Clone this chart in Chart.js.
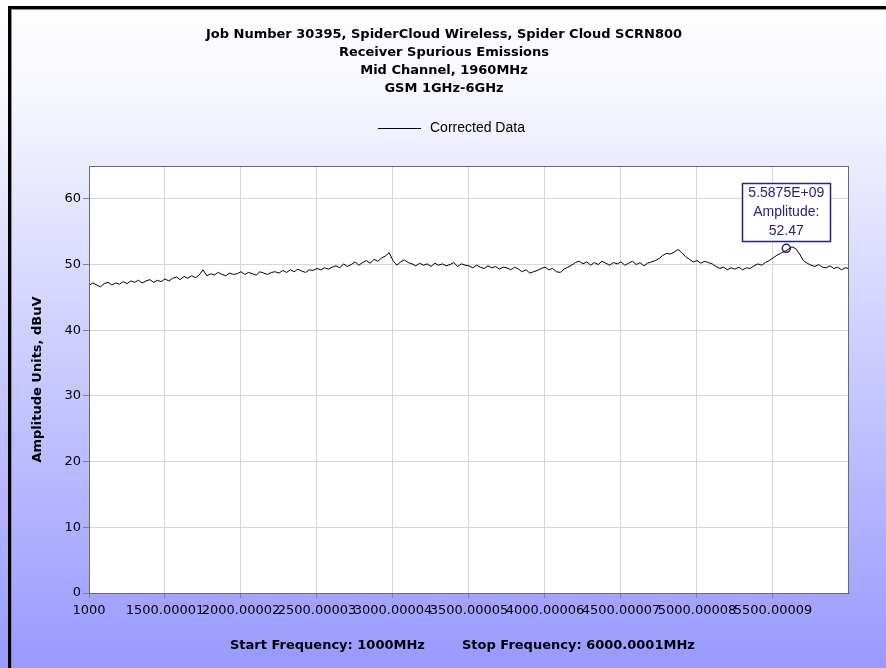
<!DOCTYPE html>
<html>
<head>
<meta charset="utf-8">
<script src="https://cdn.jsdelivr.net/npm/chart.js@4"></script>
<style>
html, body { margin: 0; padding: 0; background: #fff; }
canvas { display: block; }
</style>
</head>
<body>
<canvas id="specChart" width="886" height="668"></canvas>
<script>
// sweep: 1000 -> 6000 MHz, one reading every 25 MHz
const startMHz = 1000;
const stepMHz = 25;
const amplitude = [
  46.8, 47.2, 46.9, 46.6, 47.1, 47.3, 46.9, 47.2, 47.0, 47.4,
  47.1, 47.5, 47.3, 47.6, 47.2, 47.5, 47.7, 47.3, 47.6, 47.4,
  47.8, 47.5, 47.9, 48.1, 47.7, 48.2, 47.9, 48.3, 48.0, 48.4,
  49.2, 48.3, 48.6, 48.4, 48.8, 48.5, 48.3, 48.7, 48.5, 48.6,
  48.9, 48.5, 48.8, 48.6, 48.4, 48.9, 48.7, 48.5, 48.8, 48.9,
  48.7, 49.1, 48.8, 49.2, 48.9, 49.3, 49.0, 48.8, 49.2, 49.1,
  49.4, 49.2, 49.5, 49.3, 49.6, 49.8, 49.5, 50.1, 49.7, 50.0,
  50.4, 49.9, 50.3, 50.6, 50.2, 50.8, 50.5, 51.0, 51.3, 51.8,
  50.6, 49.9, 50.4, 50.7, 50.3, 50.1, 49.8, 50.2, 49.9, 50.1,
  49.7, 50.2, 49.9, 50.1, 49.8, 50.0, 50.3, 49.7, 50.1, 49.9,
  49.8, 49.5, 49.9, 49.6, 49.4, 49.8, 49.5, 49.7, 49.3, 49.6,
  49.5, 49.2, 49.6, 49.3, 48.9, 49.2, 48.7, 48.9, 49.1, 49.4,
  49.6, 49.2, 49.4, 48.9, 48.8, 49.3, 49.6, 49.9, 50.3, 50.5,
  50.1, 50.4, 49.9, 50.3, 50.0, 50.5, 50.2, 49.9, 50.3, 50.1,
  50.4, 49.9, 50.2, 50.5, 50.0, 50.3, 49.8, 50.2, 50.4, 50.6,
  50.9, 51.4, 51.7, 51.6, 51.9, 52.3, 51.8, 51.2, 50.8, 50.4,
  50.6, 50.2, 50.5, 50.3, 50.1, 49.7, 49.4, 49.6, 49.2, 49.5,
  49.3, 49.6, 49.2, 49.5, 49.4, 49.8, 50.1, 49.9, 50.3, 50.6,
  51.0, 51.4, 51.7, 52.0, 52.3, 52.7, 52.4, 51.6, 50.6, 50.2,
  49.9, 49.7, 50.0, 49.6, 49.5, 49.8, 49.4, 49.6, 49.2, 49.5,
  49.4
];
const freqs = amplitude.map((_, i) => startMHz + i * stepMHz);

const xTickValues = [1000, 1500, 2000, 2500, 3000, 3500, 4000, 4500, 5000, 5500];
const xTickLabels = ['1000', '1500.00001', '2000.00002', '2500.00003', '3000.00004',
  '3500.00005', '4000.00006', '4500.00007', '5000.00008', '5500.00009'];
const yTickValues = [0, 10, 20, 30, 40, 50, 60];

const peakFreq = 5587.5;
const peakAmp = 52.47;
const peakLabel = ['5.5875E+09', 'Amplitude:', '52.47'];

const titleLines = [
  'Job Number 30395, SpiderCloud Wireless, Spider Cloud SCRN800',
  'Receiver Spurious Emissions',
  'Mid Channel, 1960MHz',
  'GSM 1GHz-6GHz'
];
const legendText = 'Corrected Data';
const yTitle = 'Amplitude Units, dBuV';
const startText = 'Start Frequency: 1000MHz';
const stopText = 'Stop Frequency: 6000.0001MHz';

const boldFont = 'bold 13px "DejaVu Sans"';
const navy = '#22228a';

const decor = {
  id: 'decor',
  beforeDraw(chart) {
    const { ctx, width, height, chartArea: a } = chart;
    ctx.save();
    const g = ctx.createLinearGradient(0, 0, 0, height);
    g.addColorStop(0, '#ffffff');
    g.addColorStop(0.15, '#f6f6ff');
    g.addColorStop(1, '#9999ff');
    ctx.fillStyle = g;
    ctx.fillRect(0, 0, width, height);
    ctx.fillStyle = '#ffffff';
    ctx.fillRect(a.left, a.top, a.right - a.left, a.bottom - a.top);

    // window frame
    ctx.fillStyle = '#000';
    ctx.fillRect(8, 6, width - 8, 3);
    ctx.fillRect(8, 6, 3, height - 6);
    ctx.fillStyle = '#8c8c8c';
    ctx.fillRect(11, 9, width - 11, 1);
    ctx.fillRect(11, 9, 1, height - 9);

    // title
    ctx.fillStyle = '#000';
    ctx.font = boldFont;
    ctx.textAlign = 'center';
    ctx.textBaseline = 'middle';
    titleLines.forEach((t, i) => ctx.fillText(t, 444, 35 + i * 18));

    // legend
    ctx.strokeStyle = '#000';
    ctx.lineWidth = 1;
    ctx.beginPath();
    ctx.moveTo(378, 128.5);
    ctx.lineTo(421, 128.5);
    ctx.stroke();
    ctx.font = '14px "Liberation Sans"';
    ctx.textAlign = 'left';
    ctx.fillText(legendText, 430, 128);

    // axis titles
    ctx.font = boldFont;
    ctx.save();
    ctx.translate(38, (a.top + a.bottom) / 2);
    ctx.rotate(-Math.PI / 2);
    ctx.textAlign = 'center';
    ctx.fillText(yTitle, 0, 0);
    ctx.restore();
    ctx.textAlign = 'left';
    ctx.fillText(startText, 230, 646);
    ctx.fillText(stopText, 462, 646);
    ctx.restore();
  },
  afterDatasetsDraw(chart) {
    const { ctx, chartArea: a, scales } = chart;
    ctx.save();
    ctx.strokeStyle = '#6a6a6a';
    ctx.lineWidth = 1;
    ctx.strokeRect(a.left + 0.5, a.top + 0.5, a.right - a.left - 1, a.bottom - a.top);

    // peak marker label
    const px = scales.x.getPixelForValue(peakFreq);
    const py = scales.y.getPixelForValue(peakAmp);
    const w = 88, h = 58;
    const bx = Math.round(px - w / 2) + 0.5, by = Math.round(py - 7 - h) + 0.5;
    ctx.fillStyle = '#fff';
    ctx.fillRect(bx, by, w, h);
    ctx.strokeStyle = navy;
    ctx.lineWidth = 1.5;
    ctx.strokeRect(bx, by, w, h);
    ctx.fillStyle = navy;
    ctx.font = '14px "Liberation Sans"';
    ctx.textAlign = 'center';
    ctx.textBaseline = 'middle';
    peakLabel.forEach((t, i) => ctx.fillText(t, px, by + 10 + i * 19));
    ctx.restore();
  }
};

new Chart(document.getElementById('specChart'), {
  type: 'line',
  data: {
    datasets: [
      {
        label: legendText,
        data: freqs.map((f, i) => ({ x: f, y: amplitude[i] })),
        borderColor: '#000',
        borderWidth: 1,
        pointRadius: 0,
        tension: 0
      },
      {
        label: 'peak',
        data: [{ x: peakFreq, y: peakAmp }],
        showLine: false,
        pointRadius: 4,
        pointBorderWidth: 1.5,
        pointBorderColor: navy,
        pointBackgroundColor: 'rgba(0,0,0,0)'
      }
    ]
  },
  options: {
    responsive: false,
    animation: false,
    layout: { padding: { top: 166, left: 0, right: 37, bottom: 45 } },
    plugins: {
      legend: { display: false },
      title: { display: false },
      tooltip: { enabled: false }
    },
    scales: {
      x: {
        type: 'linear',
        min: 1000,
        max: 6000.0001,
        afterBuildTicks: s => { s.ticks = xTickValues.map(v => ({ value: v })); },
        afterFit: s => { s.height = 30; },
        ticks: {
          autoSkip: false,
          maxRotation: 0,
          minRotation: 0,
          padding: 5,
          color: '#000',
          font: { family: 'DejaVu Sans', size: 13 },
          callback: (v, i) => xTickLabels[i]
        },
        grid: { color: '#d6d6d6', tickColor: '#808080', tickLength: 5 },
        border: { color: '#808080' }
      },
      y: {
        min: 0,
        max: 65,
        afterBuildTicks: s => { s.ticks = yTickValues.map(v => ({ value: v })); },
        afterFit: s => { s.width = 89; },
        ticks: {
          padding: 2,
          color: '#000',
          font: { family: 'DejaVu Sans', size: 13 }
        },
        grid: { color: '#d6d6d6', tickColor: '#808080', tickLength: 6 },
        border: { color: '#808080' }
      }
    }
  },
  plugins: [decor]
});
</script>
</body>
</html>
